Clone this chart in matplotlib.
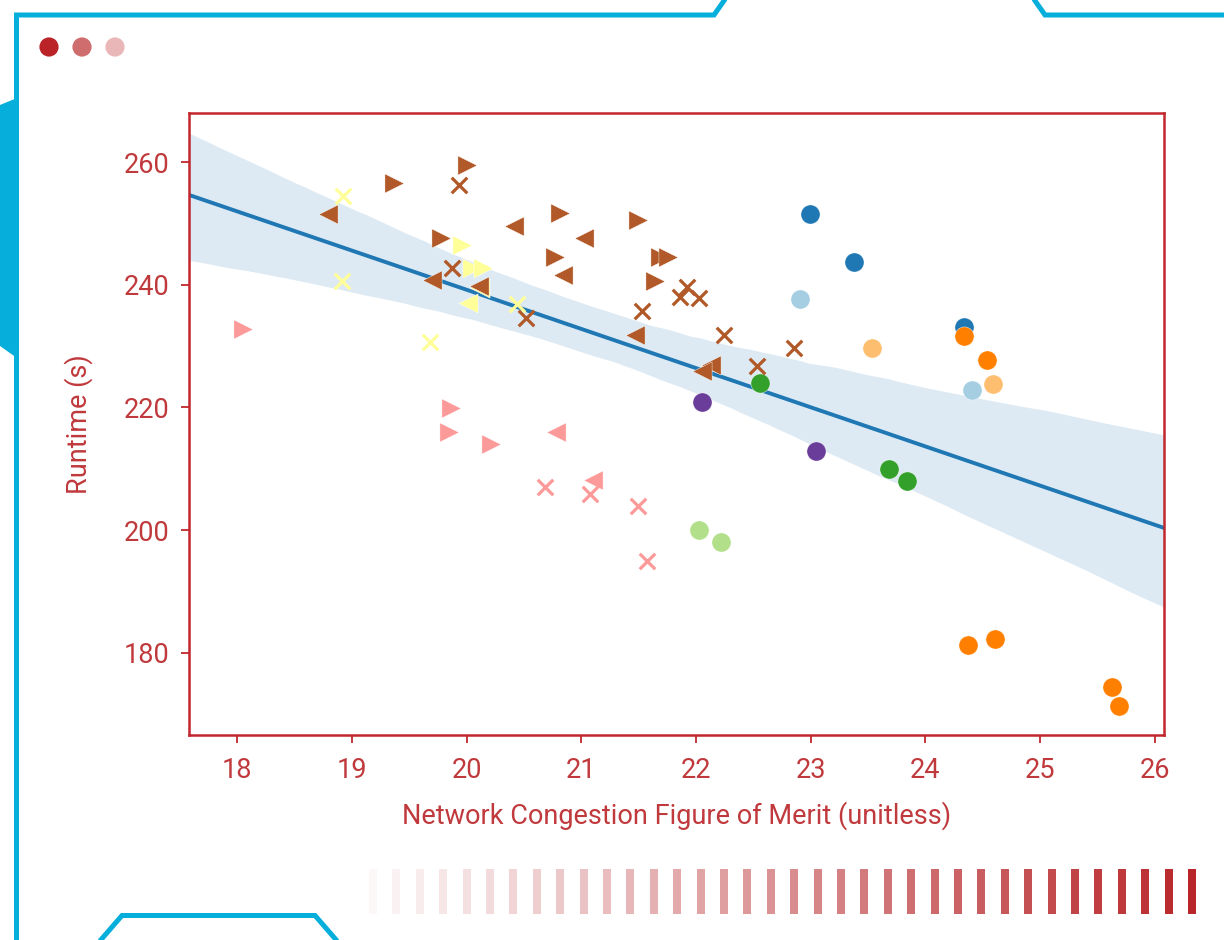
import numpy as np
import matplotlib
matplotlib.use("Agg")
import matplotlib.pyplot as plt
from matplotlib.patches import Polygon, Circle, Rectangle
import seaborn as sns

plt.rcParams['font.family'] = ['Roboto', 'DejaVu Sans']

# ---- data: (congestion FoM, runtime) per group ----
blue_x = [22.99, 23.38, 24.34]
blue_y = [251.5, 243.7, 233.1]
lightblue_x = [22.91, 24.41]
lightblue_y = [237.7, 222.9]
lightorange_x = [23.53, 24.59]
lightorange_y = [229.7, 223.8]
orange_x = [24.34, 24.54, 24.37, 24.61, 25.63, 25.69]
orange_y = [231.7, 227.7, 181.3, 182.3, 174.5, 171.4]
green_x = [22.56, 23.68, 23.84]
green_y = [224.0, 210.0, 208.0]
lightgreen_x = [22.03, 22.22]
lightgreen_y = [200.0, 198.1]
purple_x = [22.05, 23.05]
purple_y = [220.9, 212.9]

pink_right_x = [18.05, 19.86, 19.85, 20.21]
pink_right_y = [232.8, 219.9, 216.0, 214.1]
pink_left_x = [20.78, 21.10]
pink_left_y = [216.0, 208.2]
pink_cross_x = [20.68, 21.08, 21.49, 21.57]
pink_cross_y = [207.0, 205.9, 204.0, 195.0]

yellow_cross_x = [18.92, 18.91, 19.68, 20.44]
yellow_cross_y = [254.5, 240.6, 230.7, 236.9]
yellow_right_x = [19.96, 20.05, 20.14]
yellow_right_y = [246.5, 242.7, 242.7]
yellow_left_x = [20.01, 20.12]
yellow_left_y = [237.0, 239.5]

brown_right_x = [19.37, 20.00, 19.78, 20.81, 21.49, 20.77, 21.69, 21.76, 21.64]
brown_right_y = [256.6, 259.5, 247.6, 251.7, 250.5, 244.5, 244.5, 244.5, 240.6]
brown_left_x = [18.79, 20.41, 19.70, 20.11, 21.02, 20.84, 21.47, 22.13, 22.05]
brown_left_y = [251.5, 249.6, 240.8, 239.8, 247.6, 241.6, 231.8, 226.9, 225.9]
brown_cross_x = [19.93, 19.87, 20.52, 21.53, 21.92, 21.86, 22.03, 22.24, 22.53, 22.85]
brown_cross_y = [256.3, 242.7, 234.6, 235.7, 239.6, 238.0, 237.8, 231.8, 226.8, 229.7]

x_ticks = [18, 19, 20, 21, 22, 23, 24, 25, 26]
y_ticks = [180, 200, 220, 240, 260]
x_label = "Network Congestion Figure of Merit (unitless)"
y_label = "Runtime (s)"

RED = '#C1272D'
TXT = '#C0393C'
CYAN = '#05AEDB'

W, H = 1224, 940
fig = plt.figure(figsize=(W / 100, H / 100), dpi=100)

# ---- decorative frame in pixel coordinates ----
deco = fig.add_axes([0, 0, 1, 1], zorder=0)
deco.set_xlim(0, W)
deco.set_ylim(H, 0)
deco.axis('off')
lw_frame = 3.6
deco.plot([16.5, 16.5, 714, 728], [H + 5, 15, 15, -5], color=CYAN, lw=lw_frame,
          solid_joinstyle='miter', solid_capstyle='butt')
deco.plot([1031, 1045, W + 5], [-5, 15, 15], color=CYAN, lw=lw_frame,
          solid_joinstyle='miter', solid_capstyle='butt')
deco.plot([99, 122, 315, 338], [H + 2, 915.5, 915.5, H + 2], color=CYAN, lw=lw_frame,
          solid_joinstyle='miter', solid_capstyle='butt')
deco.add_patch(Polygon([(0, 105), (17, 98), (17, 358), (0, 346)], closed=True,
                       color=CYAN, lw=0))
for cx, col in zip([49, 82, 115], ['#BA2328', '#CF6C6E', '#E9B7B8']):
    deco.add_patch(Circle((cx, 47), 9.6, color=col, lw=0))
n_bars = 36
for i in range(n_bars):
    cx = 373 + i * (1192 - 373) / (n_bars - 1)
    a = 0.03 + 0.97 * i / (n_bars - 1)
    deco.add_patch(Rectangle((cx - 4, 869), 8, 45, color='#B8262A', alpha=a, lw=0))

# ---- main scatter axes ----
ax = fig.add_axes([189 / W, 1 - 735 / H, (1164 - 189) / W, (735 - 113) / H], zorder=1)
ax.set_facecolor('white')

all_x = (blue_x + lightblue_x + lightorange_x + orange_x + green_x + lightgreen_x + purple_x
         + pink_right_x + pink_left_x + pink_cross_x + yellow_cross_x + yellow_right_x
         + yellow_left_x + brown_right_x + brown_left_x + brown_cross_x)
all_y = (blue_y + lightblue_y + lightorange_y + orange_y + green_y + lightgreen_y + purple_y
         + pink_right_y + pink_left_y + pink_cross_y + yellow_cross_y + yellow_right_y
         + yellow_left_y + brown_right_y + brown_left_y + brown_cross_y)

ax.set_xlim(17.58, 26.08)
ax.set_ylim(166.6, 268.0)

sns.regplot(x=np.array(all_x), y=np.array(all_y), ax=ax, scatter=False, truncate=False,
            ci=95, seed=3, color='#1f77b4', line_kws=dict(lw=2.8, zorder=2))

S = 190
filled = [
    (yellow_right_x, yellow_right_y, '#FFFF99', '>'),
    (yellow_left_x, yellow_left_y, '#FFFF99', '<'),
    (pink_right_x, pink_right_y, '#FB9A99', '>'),
    (pink_left_x, pink_left_y, '#FB9A99', '<'),
    (brown_right_x, brown_right_y, '#B15928', '>'),
    (brown_left_x, brown_left_y, '#B15928', '<'),
    (blue_x, blue_y, '#1F78B4', 'o'),
    (lightblue_x, lightblue_y, '#A6CEE3', 'o'),
    (lightorange_x, lightorange_y, '#FDBF6F', 'o'),
    (orange_x, orange_y, '#FF7F00', 'o'),
    (green_x, green_y, '#33A02C', 'o'),
    (lightgreen_x, lightgreen_y, '#B2DF8A', 'o'),
    (purple_x, purple_y, '#6A3D9A', 'o'),
]
for xs, ys, col, mk in filled:
    ax.scatter(xs, ys, s=S, c=col, marker=mk, edgecolors='white', linewidths=0.3, zorder=3)
for xs, ys, col in [(yellow_cross_x, yellow_cross_y, '#FFFF99'),
                    (pink_cross_x, pink_cross_y, '#FB9A99'),
                    (brown_cross_x, brown_cross_y, '#B15928')]:
    ax.scatter(xs, ys, s=125, c=col, marker='x', linewidths=2.3, zorder=3)

ax.set_xticks(x_ticks)
ax.set_yticks(y_ticks)
for sp in ax.spines.values():
    sp.set_color(RED)
    sp.set_linewidth(1.8)
ax.tick_params(axis='both', colors=RED, labelcolor=TXT, length=6, width=1.3,
               labelsize=19.5)
ax.tick_params(axis='x', pad=10)
ax.tick_params(axis='y', pad=8)
ax.set_xlabel(x_label, color=TXT, fontsize=19.5, labelpad=12)
ax.set_ylabel(y_label, color=TXT, fontsize=19.5, labelpad=22)
ax.grid(False)

fig.savefig('out.png', dpi=100, facecolor='white')
